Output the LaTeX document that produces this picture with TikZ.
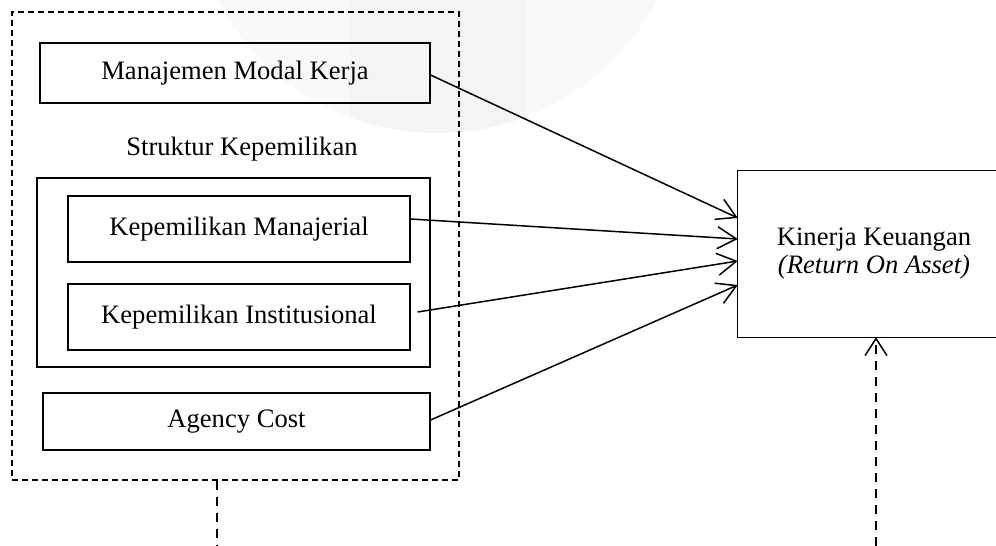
\documentclass[tikz,border=0pt]{standalone}
\usepackage{fontspec}
\setmainfont{Liberation Serif}
\usetikzlibrary{arrows.meta,calc}
\begin{document}
\begin{tikzpicture}[x=1pt,y=-1pt,
  box/.style={draw=black,line width=1.1pt,rectangle,inner sep=0pt,align=center},
  conn/.style={line width=1.5pt,-{Straight Barb[length=19pt,width=22pt,line width=1.5pt]}},
  dline/.style={line width=1.5pt,dash pattern=on 9pt off 7pt},
  txt/.style={font=\fontsize{26.6}{31}\selectfont}]
\useasboundingbox (0,0) rectangle (996,546);
\fill[white] (0,0) rectangle (996,546);
% watermark
\begin{scope}
  \clip (0,0) rectangle (996,546);
  \fill[gray!5] (437,-115) circle (248);
  \clip (437,-115) circle (248);
  \fill[gray!9] (350,-400) rectangle (525,200);
\end{scope}
% outer dashed group
\node[draw=black,line width=1.1pt,dash pattern=on 6pt off 4pt,minimum width=447pt,minimum height=468pt,inner sep=0pt] (grp) at (235.5,246) {};
\node[box,txt,minimum width=390pt,minimum height=60pt] (mmk) at (235,73) {Manajemen Modal Kerja};
\node[txt,inner sep=0pt] (sk) at (242,149) {Struktur Kepemilikan};
\node[box,minimum width=393pt,minimum height=189pt] (skb) at (233.5,272.5) {};
\node[box,txt,minimum width=342pt,minimum height=66pt] (km) at (239,229) {Kepemilikan Manajerial};
\node[box,txt,minimum width=342pt,minimum height=66pt] (ki) at (239,317) {Kepemilikan Institusional};
\node[box,txt,minimum width=387pt,minimum height=57pt] (ac) at (236.5,421.5) {Agency Cost};
% Kinerja box (right side cut by page edge)
\node[txt,inner sep=0pt,minimum width=272pt,minimum height=166pt,align=center] (kin) at (874,254) {Kinerja Keuangan\\[-3pt]\textit{(Return On Asset)}};
\draw[line width=1.1pt] (kin.north east) -- (kin.north west) -- (kin.south west) -- (kin.south east);
% connectors
\draw[conn] ([yshift=-2pt]mmk.east) -- ([yshift=36pt]kin.west);
\draw[conn] ([yshift=10pt]km.east) -- ([yshift=15pt]kin.west);
\draw[conn] ([xshift=7pt,yshift=5pt]ki.east) -- ([yshift=-7pt]kin.west);
\draw[conn] ([yshift=1.5pt]ac.east) -- ([yshift=-31pt]kin.west);
% dashed lines at bottom
\coordinate (b1) at (217,546);
\coordinate (b2) at (876,546);
\draw[dline] (grp.south -| b1) -- (b1);
\draw[dline,-{Straight Barb[length=17pt,width=22pt,line width=1.5pt]}] (b2) -- (b2 |- kin.south);
\end{tikzpicture}
\end{document}
